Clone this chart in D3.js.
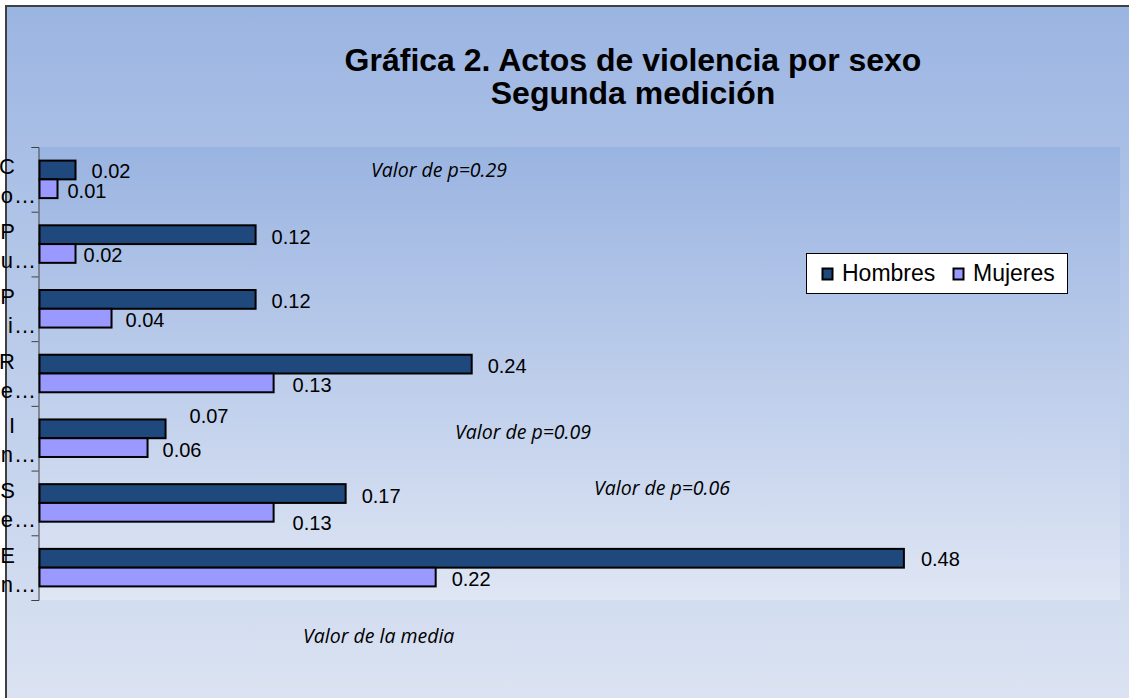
<!DOCTYPE html>
<html><head><meta charset="utf-8">
<script src="https://cdn.jsdelivr.net/npm/d3@7"></script>
<style>html,body{margin:0;padding:0;background:#fff;overflow:hidden}</style>
</head><body>
<script>
// ---- data ----
const categoryLine1 = ["C","P","P","R","I","S","E"];
const categoryLine2 = ["o…","u…","i…","e…","n…","e…","n…"];
const seriesNames = ["Hombres","Mujeres"];
const hombres = [0.02,0.12,0.12,0.24,0.07,0.17,0.48];
const mujeres = [0.01,0.02,0.04,0.13,0.06,0.13,0.22];
const xDomain = [0, 0.6];
const titleLines = ["Gráfica 2. Actos de violencia por sexo","Segunda medición"];
const notes = ["Valor de p=0.29","Valor de p=0.09","Valor de p=0.06","Valor de la media"];

// ---- layout (not data) ----
const W = 1129, H = 698;
const plot = {x0: 39.5, x1: 1120, y0: 147, y1: 600};
const colors = {Hombres: "#1F497D", Mujeres: "#9999FF"};
// manual label nudges [dx, dy] per category per series
const labelNudge = [
  [[0,-1],[-6,0]],
  [[0,0],[-8,0]],
  [[0,0],[-2,0]],
  [[0,0],[3,0]],
  [[8,-15],[-1,0]],
  [[0,0],[3,9]],
  [[1,-1],[0,0]]
];
const notePos = [[371,177],[455,439],[594,495],[303,643]];

const svg = d3.select("body").append("svg").attr("width", W).attr("height", H);
const defs = svg.append("defs");
const g1 = defs.append("linearGradient").attr("id","bg").attr("x1",0).attr("y1",0).attr("x2",0).attr("y2",1);
g1.append("stop").attr("offset","0%").attr("stop-color","#9BB5E2");
g1.append("stop").attr("offset","100%").attr("stop-color","#DBE3F2");
const g2 = defs.append("linearGradient").attr("id","pbg").attr("x1",0).attr("y1",0).attr("x2",0).attr("y2",1);
g2.append("stop").attr("offset","0%").attr("stop-color","#9AB4E1");
g2.append("stop").attr("offset","100%").attr("stop-color","#DFE6F4");

svg.append("rect").attr("x",0).attr("y",0).attr("width",W).attr("height",H).attr("fill","#fff");
svg.append("rect").attr("x",6).attr("y",6).attr("width",W-6).attr("height",H-6).attr("fill","url(#bg)");
svg.append("path").attr("d",`M6,${H} V6 H${W}`).attr("fill","none").attr("stroke","#404040").attr("stroke-width",2);

// plot area
svg.append("rect").attr("x",plot.x0).attr("y",plot.y0).attr("width",plot.x1-plot.x0).attr("height",plot.y1-plot.y0).attr("fill","url(#pbg)");

// title
const title = svg.append("text").attr("text-anchor","middle")
  .attr("font-family","Liberation Sans, Arial, sans-serif").attr("font-weight","bold").attr("font-size",32).attr("fill","#000");
title.selectAll("tspan").data(titleLines).join("tspan").attr("x",633).attr("y",(d,i)=>[71,104][i]).text(d=>d);

// scales
const x = d3.scaleLinear().domain(xDomain).range([plot.x0, plot.x1]);
const idx = d3.range(categoryLine1.length);
const y0 = d3.scaleBand().domain(idx).range([plot.y0, plot.y1]).paddingInner(0.42).paddingOuter(0.21);
const y1 = d3.scaleBand().domain(seriesNames).range([0, y0.bandwidth()]);
const yEdge = d3.scaleLinear().domain([0, idx.length]).range([plot.y0, plot.y1]);

// axis
const ax = svg.append("g").attr("transform",`translate(38.5,0)`)
  .call(d3.axisLeft(yEdge).tickValues(d3.range(idx.length+1)).tickSize(7).tickSizeOuter(7).tickFormat(""));
ax.selectAll("path,line").attr("stroke","#404040").attr("stroke-width",1);

// category labels
const labG = svg.append("g").attr("font-family","Liberation Sans, Arial, sans-serif").attr("font-size",22).attr("fill","#000");
idx.forEach(i=>{
  const c = yEdge(i) + y0.step()/2;
  labG.append("text").attr("x",15).attr("y",c-5).attr("text-anchor","end").text(categoryLine1[i]);
  labG.append("text").attr("x",37).attr("y",c+24).attr("text-anchor","end").attr("letter-spacing",1).text(categoryLine2[i]);
});

// bars
const rows = idx.map(i=>({i, vals: [hombres[i], mujeres[i]]}));
const grp = svg.append("g").selectAll("g").data(rows).join("g").attr("transform",d=>`translate(0,${y0(d.i)})`);
grp.selectAll("rect").data(d=>d.vals.map((v,k)=>({v,k,s:seriesNames[k]}))).join("rect")
  .attr("x",x(0)).attr("y",d=>y1(d.s)).attr("width",d=>x(d.v)-x(0)).attr("height",y1.bandwidth())
  .attr("fill",d=>colors[d.s]).attr("stroke","#000").attr("stroke-width",2);

// data labels
const fmt = d3.format(".2f");
grp.each(function(row){
  d3.select(this).selectAll("text.dl").data(row.vals.map((v,k)=>({v,k,s:seriesNames[k],n:labelNudge[row.i][k]}))).join("text")
    .attr("class","dl")
    .attr("x",d=>x(d.v)+16+d.n[0])
    .attr("y",d=>y1(d.s)+y1.bandwidth()/2+9+d.n[1])
    .attr("font-family","Liberation Sans, Arial, sans-serif").attr("font-size",20).attr("fill","#000")
    .text(d=>fmt(d.v));
});

// notes
svg.append("g").selectAll("text").data(notes).join("text")
  .attr("x",(d,i)=>notePos[i][0]).attr("y",(d,i)=>notePos[i][1])
  .attr("font-family","Open Sans, Noto Sans, sans-serif").attr("font-style","italic").attr("font-size",19.5).attr("fill","#000")
  .text(d=>d);

// legend
const leg = svg.append("g");
leg.append("rect").attr("x",806.5).attr("y",253.5).attr("width",261).attr("height",40).attr("fill","#fff").attr("stroke","#000").attr("stroke-width",1);
const legX = [822, 953];
seriesNames.forEach((s,k)=>{
  leg.append("rect").attr("x",legX[k]+0.5).attr("y",268.5).attr("width",10).attr("height",11).attr("fill",colors[s]).attr("stroke","#000").attr("stroke-width",2);
  leg.append("text").attr("x",legX[k]+20).attr("y",281).attr("font-family","Liberation Sans, Arial, sans-serif").attr("font-size",23).attr("fill","#000").text(s);
});
</script>
</body></html>
